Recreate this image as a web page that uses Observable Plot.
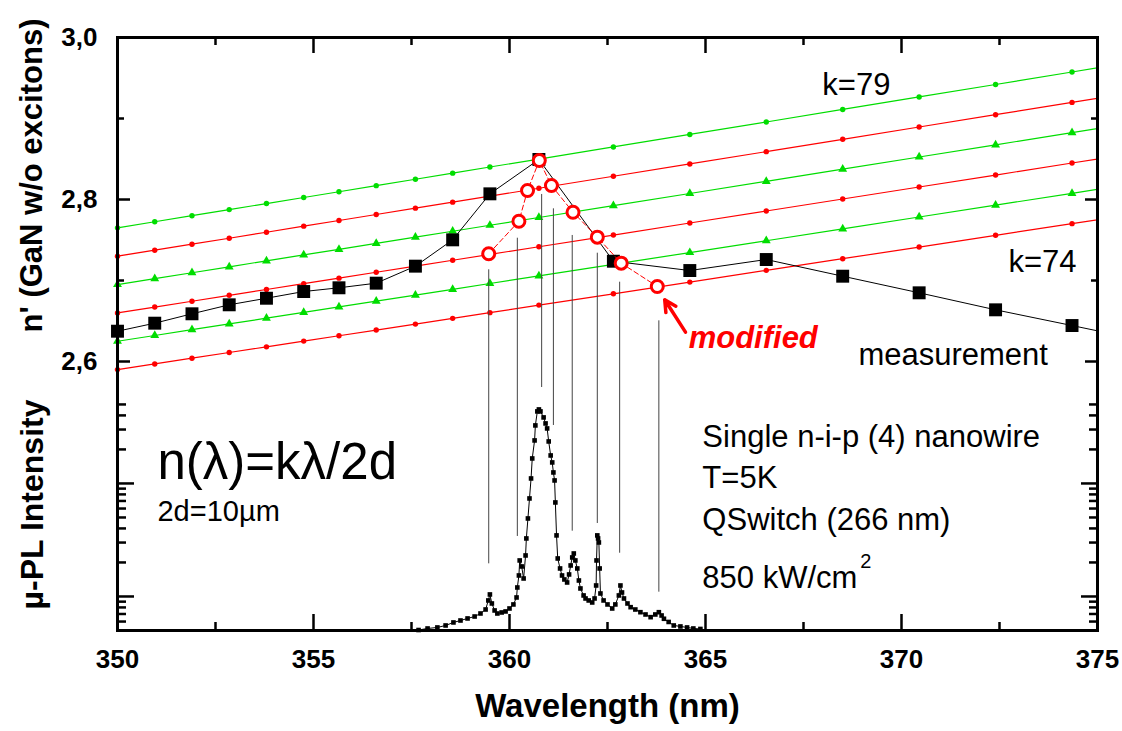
<!DOCTYPE html>
<html><head><meta charset="utf-8">
<script src="https://cdn.jsdelivr.net/npm/d3@7"></script>
<script src="https://cdn.jsdelivr.net/npm/@observablehq/plot@0.6"></script>
<style>
html,body{margin:0;padding:0;background:#fff;}
#chart{position:relative;width:1122px;height:731px;overflow:hidden;}
#chart svg{position:absolute;left:0;top:0;}
</style></head><body><div id="chart"></div>
<script>
// ---- data ----
// wavelengths (nm) of the measured modes (last one lies beyond the axis)
const wavelengths = [350.0, 350.95, 351.9, 352.85, 353.8, 354.75, 355.65, 356.6, 357.6, 358.55,
                     359.5, 360.75, 362.65, 364.6, 366.55, 368.5, 370.45, 372.4, 374.35, 376.3];
// measured n'
const measured = [2.6374, 2.6473, 2.6589, 2.6700, 2.6781, 2.6864, 2.6910, 2.6967, 2.7177, 2.7502,
                  2.8070, 2.8494, 2.7238, 2.7123, 2.7259, 2.7053, 2.6848, 2.6638, 2.6444, 2.6247];
// mode lines n = k*lambda/2d at the same wavelengths
const k79 = [2.7650, 2.7725, 2.7800, 2.7875, 2.7950, 2.8025, 2.8096, 2.8171, 2.8250, 2.8325,
             2.8401, 2.8499, 2.8649, 2.8803, 2.8957, 2.9112, 2.9266, 2.9420, 2.9574, 2.9728];
const k78 = [2.7300, 2.7374, 2.7448, 2.7522, 2.7596, 2.7671, 2.7741, 2.7815, 2.7893, 2.7967,
             2.8041, 2.8139, 2.8287, 2.8439, 2.8591, 2.8743, 2.8895, 2.9047, 2.9199, 2.9351];
const k77 = [2.6950, 2.7023, 2.7096, 2.7169, 2.7243, 2.7316, 2.7385, 2.7458, 2.7535, 2.7608,
             2.7682, 2.7778, 2.7924, 2.8074, 2.8224, 2.8375, 2.8525, 2.8675, 2.8825, 2.8975];
const k76 = [2.6600, 2.6672, 2.6744, 2.6817, 2.6889, 2.6961, 2.7029, 2.7102, 2.7178, 2.7250,
             2.7322, 2.7417, 2.7561, 2.7710, 2.7858, 2.8006, 2.8154, 2.8302, 2.8451, 2.8599];
const k75 = [2.6250, 2.6321, 2.6393, 2.6464, 2.6535, 2.6606, 2.6674, 2.6745, 2.6820, 2.6891,
             2.6963, 2.7056, 2.7199, 2.7345, 2.7491, 2.7638, 2.7784, 2.7930, 2.8076, 2.8223];
const k74 = [2.5900, 2.5970, 2.6041, 2.6111, 2.6181, 2.6252, 2.6318, 2.6388, 2.6462, 2.6533,
             2.6603, 2.6696, 2.6836, 2.6980, 2.7125, 2.7269, 2.7413, 2.7558, 2.7702, 2.7846];
// modified values
const modWl = [359.47, 360.24, 360.46, 360.76, 361.07, 361.62, 362.24, 362.85, 363.77];
const modN  = [2.733, 2.7732, 2.8111, 2.8481, 2.8173, 2.7843, 2.7535, 2.7214, 2.6926];
// vertical guide lines from the PL peaks to the modes
const guideWl     = [359.47, 360.20, 360.82, 361.12, 361.60, 362.24, 362.81, 363.81];
const guideTop    = [2.7132, 2.7522, 2.8062, 2.7885, 2.7556, 2.7337, 2.6979, 2.6502];
const guideBottom = [2.3502, 2.3840, 2.5679, 2.5210, 2.3905, 2.4000, 2.3633, 2.3152];
// µ-PL spectrum (log intensity, arb. units)
const plWl = [357.68, 357.91, 358.16, 358.37, 358.57, 358.75, 358.93, 359.11, 359.26, 359.39,
              359.46, 359.50, 359.55, 359.62, 359.69, 359.80, 359.90, 360.00, 360.10, 360.18,
              360.20, 360.24, 360.26, 360.31, 360.36, 360.41, 360.43, 360.47, 360.51, 360.55,
              360.58, 360.64, 360.66, 360.71, 360.75, 360.79, 360.87, 360.92, 360.96, 361.00,
              361.05, 361.09, 361.12, 361.15, 361.17, 361.20, 361.23, 361.29, 361.34, 361.40,
              361.47, 361.52, 361.56, 361.60, 361.64, 361.68, 361.73, 361.77, 361.81, 361.89,
              361.94, 362.02, 362.11, 362.17, 362.21, 362.22, 362.24, 362.26, 362.28, 362.30,
              362.32, 362.40, 362.50, 362.62, 362.70, 362.79, 362.83, 362.87, 362.92, 363.01,
              363.09, 363.21, 363.34, 363.47, 363.60, 363.72, 363.81, 363.88, 363.94, 364.06,
              364.19, 364.36, 364.53, 364.69, 364.87];
const plInt = [0.505, 0.521, 0.532, 0.554, 0.589, 0.613, 0.639, 0.665, 0.707, 0.767,
               0.922, 1.042, 0.867, 0.752, 0.707, 0.722, 0.737, 0.783, 0.850, 0.980,
               1.201, 1.534, 2.083, 1.843, 1.443, 2.306, 3.261, 4.900, 7.366, 11.07,
               16.64, 24.02, 32.61, 43.38, 45.17, 43.38, 38.38, 33.96, 30.67, 23.53,
               17.69, 15.34, 12.51, 10.63, 6.79, 3.47, 2.169, 1.769, 1.534, 1.414,
               1.330, 1.566, 1.881, 2.214, 2.401, 2.083, 1.769, 1.385, 1.177, 1.021,
               0.960, 0.922, 0.885, 0.960, 1.251, 2.083, 3.47, 3.261, 3.005, 1.769,
               1.063, 0.922, 0.850, 0.783, 0.850, 1.021, 1.251, 1.085, 0.960, 0.867,
               0.804, 0.767, 0.726, 0.693, 0.656, 0.693, 0.726, 0.679, 0.635, 0.595,
               0.554, 0.543, 0.532, 0.521, 0.516];
// axis ticks
const xMajor = [350, 355, 360, 365, 370, 375];
const xMinor = [352.5, 357.5, 362.5, 367.5, 372.5];
const yMajor = [2.6, 2.8, 3.0];
const yMinor = [2.7, 2.9];
const logMajor = [1, 10];
const logMinor = [0.5, 0.6, 0.7, 0.8, 0.9, 2, 3, 4, 5, 6, 7, 8, 9, 20, 30, 40, 50];

// ---- drawing ----
const FONT = "'Liberation Sans', Arial, Helvetica, sans-serif";
const RED = "#ff0000", GREEN = "#00dd00";
const W = 1122, H = 731, ML = 117, MR = 25, MB = 101;

const kSeries = [
  {k: 79, n: k79, color: GREEN, symbol: "circle"},
  {k: 78, n: k78, color: RED, symbol: "circle"},
  {k: 77, n: k77, color: GREEN, symbol: "triangle"},
  {k: 76, n: k76, color: RED, symbol: "circle"},
  {k: 75, n: k75, color: GREEN, symbol: "triangle"},
  {k: 74, n: k74, color: RED, symbol: "circle"}
];
const kMarks = kSeries.flatMap(s => {
  const data = wavelengths.map((w, i) => ({w, n: s.n[i]}));
  return [
    Plot.line(data, {x: "w", y: "n", stroke: s.color, strokeWidth: 1.2, clip: true}),
    Plot.dot(data.filter(d => d.w <= 375), {x: "w", y: "n", fill: s.color, symbol: s.symbol,
      r: s.symbol === "triangle" ? 3.3 : 2.7})
  ];
});
const meas = wavelengths.map((w, i) => ({w, n: measured[i]}));
const mods = modWl.map((w, i) => ({w, n: modN[i]}));
const guides = guideWl.map((w, i) => ({w, top: guideTop[i], bottom: guideBottom[i]}));
const pl = plWl.map((w, i) => ({w, i: plInt[i]}));
const fmt = d => d.toFixed(1).replace(".", ",");

const upperTexts = [
  {x: 367.98, y: 2.9407, t: "k=79"},
  {x: 372.73, y: 2.7222, t: "k=74"},
  {x: 368.90, y: 2.6074, t: "measurement"}
];

const plotA = Plot.plot({
  width: W, height: H, marginTop: 37, marginBottom: MB, marginLeft: ML, marginRight: MR,
  x: {domain: [350, 375]},
  y: {domain: [2.2679, 3.0]},
  style: {fontFamily: FONT, background: "white", overflow: "visible"},
  marks: [
    ...kMarks,
    Plot.ruleX(guides, {x: "w", y1: "top", y2: "bottom", stroke: "#444", strokeWidth: 1}),
    Plot.line(meas, {x: "w", y: "n", stroke: "black", strokeWidth: 1, clip: true}),
    Plot.dot(meas.filter(d => d.w <= 375), {x: "w", y: "n", symbol: "square", fill: "black", r: 7.3}),
    Plot.line(mods, {x: "w", y: "n", stroke: RED, strokeWidth: 1, strokeDasharray: "5,3"}),
    Plot.dot(mods, {x: "w", y: "n", r: 6, fill: "white", stroke: RED, strokeWidth: 3}),
    Plot.arrow([{x1: 364.49, y1: 2.6362, x2: 363.96, y2: 2.6762}],
      {x1: "x1", y1: "y1", x2: "x2", y2: "y2", stroke: RED, strokeWidth: 3.5, headLength: 13, headAngle: 55}),
    Plot.text(upperTexts, {x: "x", y: "y", text: "t", textAnchor: "start", fontSize: 31}),
    Plot.text([{x: 364.57, y: 2.6284, t: "modified"}],
      {x: "x", y: "y", text: "t", textAnchor: "start", fontSize: 31, fontWeight: "bold", fontStyle: "italic", fill: RED}),
    // axis labels
    Plot.axisY(yMajor, {anchor: "left", tickSize: 0, tickPadding: 20, tickFormat: fmt,
      fontSize: 26, fontWeight: "bold", label: null}),
    Plot.axisX(xMajor, {anchor: "bottom", tickSize: 0, tickPadding: 19,
      fontSize: 26, fontWeight: "bold", label: null}),
    // inward ticks
    Plot.axisY(yMajor, {anchor: "left", tickSize: 13, dx: 13, fill: "none", strokeWidth: 2.5, label: null}),
    Plot.axisY(yMinor, {anchor: "left", tickSize: 7, dx: 7, fill: "none", strokeWidth: 2.5, label: null}),
    Plot.axisY(yMajor, {anchor: "right", tickSize: 13, dx: -13, fill: "none", strokeWidth: 2.5, label: null}),
    Plot.axisY(yMinor, {anchor: "right", tickSize: 7, dx: -7, fill: "none", strokeWidth: 2.5, label: null}),
    Plot.axisX(xMajor, {anchor: "bottom", tickSize: 16, dy: -16, fill: "none", strokeWidth: 2.5, label: null}),
    Plot.axisX(xMinor, {anchor: "bottom", tickSize: 8, dy: -8, fill: "none", strokeWidth: 2.5, label: null}),
    Plot.axisX(xMajor, {anchor: "top", tickSize: 15, dy: 15, fill: "none", strokeWidth: 2.5, label: null}),
    Plot.axisX(xMinor, {anchor: "top", tickSize: 7, dy: 7, fill: "none", strokeWidth: 2.5, label: null}),
    Plot.frame({stroke: "black", strokeWidth: 3}),
    // axis titles
    Plot.text([{y: 2.8296, t: "n' (GaN w/o excitons)"}], {y: "y", text: "t", frameAnchor: "left", dx: -85,
      textAnchor: "middle", rotate: -90, fontSize: 31, fontWeight: "bold"}),
    Plot.text([{x: 362.5, t: "Wavelength (nm)"}], {x: "x", text: "t", frameAnchor: "bottom", dy: 86,
      textAnchor: "middle", fontSize: 33, fontWeight: "bold"})
  ]
});

const lowerTexts = [
  {x: 364.92, y: 25.5, t: "Single n-i-p (4) nanowire", s: 31},
  {x: 364.92, y: 11.07, t: "T=5K", s: 31},
  {x: 364.92, y: 4.71, t: "QSwitch (266 nm)", s: 31},
  {x: 364.92, y: 1.443, t: "850 kW/cm", s: 31},
  {x: 368.95, y: 2.04, t: "2", s: 20},
  {x: 351.02, y: 15.3, t: "n(λ)=kλ/2d", s: 51},
  {x: 351.02, y: 5.65, t: "2d=10µm", s: 29}
];

const plotB = Plot.plot({
  width: W, height: H, marginTop: 395, marginBottom: MB, marginLeft: ML, marginRight: MR,
  x: {domain: [350, 375], axis: null},
  y: {type: "log", domain: [0.5, 60]},
  style: {fontFamily: FONT, background: "transparent", overflow: "visible"},
  marks: [
    Plot.line(pl, {x: "w", y: "i", stroke: "black", strokeWidth: 1}),
    Plot.dot(pl, {x: "w", y: "i", symbol: "square", fill: "black", r: 2.6}),
    Plot.text(lowerTexts, {x: "x", y: "y", text: "t", fontSize: "s", textAnchor: "start"}),
    Plot.axisY(logMajor, {anchor: "left", tickSize: 17, dx: 17, fill: "none", strokeWidth: 2.5, label: null}),
    Plot.axisY(logMinor, {anchor: "left", tickSize: 9, dx: 9, fill: "none", strokeWidth: 2.5, label: null}),
    Plot.axisY(logMajor, {anchor: "right", tickSize: 17, dx: -17, fill: "none", strokeWidth: 2.5, label: null}),
    Plot.axisY(logMinor, {anchor: "right", tickSize: 9, dx: -9, fill: "none", strokeWidth: 2.5, label: null}),
    Plot.text([{y: 6.52, t: "µ-PL Intensity"}], {y: "y", text: "t", frameAnchor: "left", dx: -85,
      textAnchor: "middle", rotate: -90, fontSize: 32, fontWeight: "bold"})
  ]
});

const chart = document.getElementById("chart");
chart.appendChild(plotA);
chart.appendChild(plotB);
</script>
</body></html>
